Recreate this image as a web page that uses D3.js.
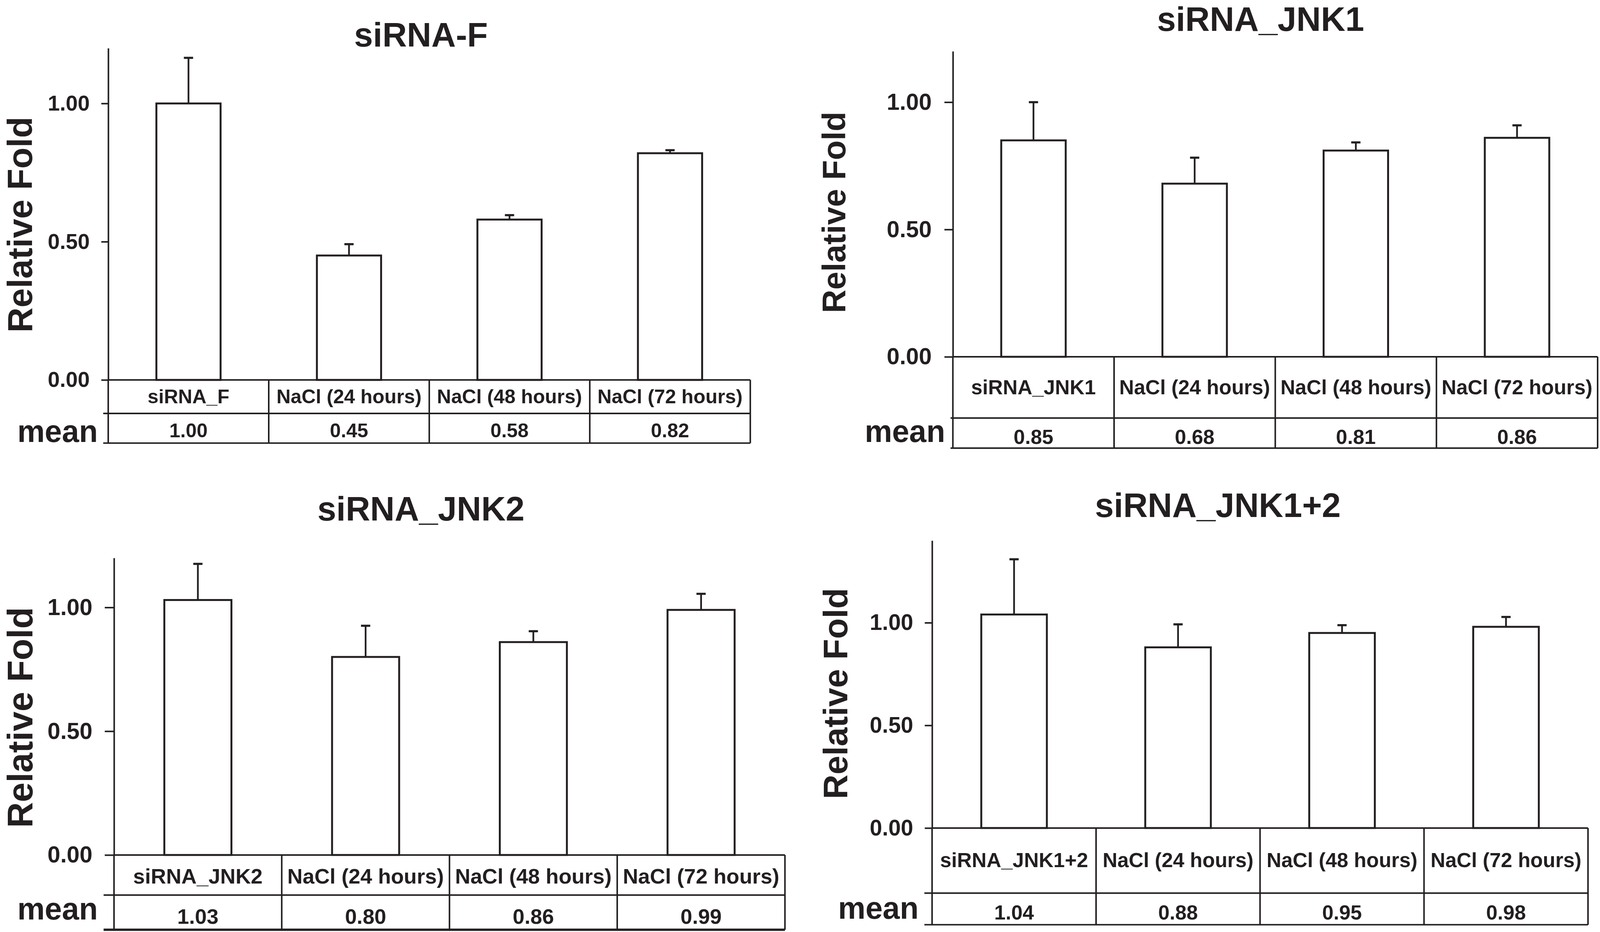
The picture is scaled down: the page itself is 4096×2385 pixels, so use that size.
<!DOCTYPE html>
<html><head><meta charset="utf-8">
<script src="https://cdn.jsdelivr.net/npm/d3@7"></script>
<style>
html,body{margin:0;padding:0;background:#fff;}
svg{display:block;}
</style>
</head><body>
<svg id="c" width="4096" height="2385"></svg>
<script>
// ---------- DATA ----------
const titles = ["siRNA-F", "siRNA_JNK1", "siRNA_JNK2", "siRNA_JNK1+2"];
const categoriesF    = ["siRNA_F", "NaCl (24 hours)", "NaCl (48 hours)", "NaCl (72 hours)"];
const categoriesJNK1 = ["siRNA_JNK1", "NaCl (24 hours)", "NaCl (48 hours)", "NaCl (72 hours)"];
const categoriesJNK2 = ["siRNA_JNK2", "NaCl (24 hours)", "NaCl (48 hours)", "NaCl (72 hours)"];
const categoriesJNK12 = ["siRNA_JNK1+2", "NaCl (24 hours)", "NaCl (48 hours)", "NaCl (72 hours)"];
const meansF    = [1.00, 0.45, 0.58, 0.82];
const meansJNK1 = [0.85, 0.68, 0.81, 0.86];
const meansJNK2 = [1.03, 0.80, 0.86, 0.99];
const meansJNK12 = [1.04, 0.88, 0.95, 0.98];
const errF    = [0.165, 0.041, 0.016, 0.011];
const errJNK1 = [0.150, 0.102, 0.032, 0.049];
const errJNK2 = [0.146, 0.126, 0.044, 0.065];
const errJNK12 = [0.269, 0.112, 0.038, 0.048];
const yTicks = [0, 0.5, 1.0];
const yMaxes = [1.2, 1.2, 1.2, 1.4];
const yLabel = "Relative Fold";
const rowLabel = "mean";

const panelsData = [
  {title: titles[0], cats: categoriesF,    means: meansF,    err: errF,    yMax: yMaxes[0]},
  {title: titles[1], cats: categoriesJNK1, means: meansJNK1, err: errJNK1, yMax: yMaxes[1]},
  {title: titles[2], cats: categoriesJNK2, means: meansJNK2, err: errJNK2, yMax: yMaxes[2]},
  {title: titles[3], cats: categoriesJNK12, means: meansJNK12, err: errJNK12, yMax: yMaxes[3]}
];

// ---------- LAYOUT (reference pixel space) ----------
const layout = [
  {x0:281, x1:1948, yTop:125, yZero:986, rowSep:1073, bottom:1150, ext:13,
   titleX:1093, titleY:121, labX:83, labY:583, labSize:90, tickSize:18, tickPad:30,
   catY:1047, valY:1135, meanX:254, meanY:1147, txtSize:51, tickFont:56, bottomW:4},
  {x0:2474, x1:4148, yTop:133, yZero:926, rowSep:1085, bottom:1163, ext:6,
   titleX:3273, titleY:80, labX:2195, labY:551, labSize:84, tickSize:22, tickPad:33,
   catY:1023, valY:1152, meanX:2454, meanY:1147, txtSize:53, tickFont:60, bottomW:4},
  {x0:296, x1:2038, yTop:1448, yZero:2219, rowSep:2323, bottom:2413, ext:27,
   titleX:1093, titleY:1351, labX:84, labY:1862, labSize:92, tickSize:24, tickPad:32,
   catY:2293, valY:2398, meanX:254, meanY:2386, txtSize:55, tickFont:60, bottomW:6},
  {x0:2420, x1:4123, yTop:1403, yZero:2149, rowSep:2318, bottom:2400, ext:20,
   titleX:3162, titleY:1342, labX:2200, labY:1800, labSize:88, tickSize:19, tickPad:30,
   catY:2250, valY:2386, meanX:2385, meanY:2384, txtSize:53, tickFont:58, bottomW:4}
];

const INK = "#231f20";
const FONT = "'Liberation Sans', Arial, Helvetica, sans-serif";
const svg = d3.select("#c");
const root = svg.append("g").attr("transform", "scale(0.986)");

panelsData.forEach((pd, i) => {
  const L = layout[i];
  const g = root.append("g");

  const y = d3.scaleLinear().domain([0, pd.yMax]).range([L.yZero, L.yTop]);
  const xCol = d3.scaleBand().domain(pd.cats).range([L.x0, L.x1]).padding(0);
  const xBar = d3.scaleBand().domain(pd.cats).range([L.x0, L.x1]).paddingInner(0.6).paddingOuter(0.3);

  // title
  g.append("text").attr("x", L.titleX).attr("y", L.titleY)
    .attr("text-anchor", "middle").attr("font-family", FONT).attr("font-weight", "bold")
    .attr("font-size", 88).attr("fill", INK).text(pd.title);

  // y label
  g.append("text").attr("transform", `translate(${L.labX},${L.labY}) rotate(-90)`)
    .attr("text-anchor", "middle").attr("font-family", FONT).attr("font-weight", "bold")
    .attr("font-size", L.labSize).attr("fill", INK).text(yLabel);

  // bars
  const rows = pd.cats.map((c, k) => ({cat: c, mean: pd.means[k], err: pd.err[k]}));
  g.selectAll("rect.bar").data(rows).join("rect").attr("class", "bar")
    .attr("x", d => xBar(d.cat)).attr("width", xBar.bandwidth())
    .attr("y", d => y(d.mean)).attr("height", d => y(0) - y(d.mean))
    .attr("fill", "#fff").attr("stroke", INK).attr("stroke-width", 5);

  // error bars (upper)
  const cx = d => xBar(d.cat) + xBar.bandwidth() / 2;
  g.selectAll("line.err").data(rows).join("line").attr("class", "err")
    .attr("x1", cx).attr("x2", cx)
    .attr("y1", d => y(d.mean)).attr("y2", d => y(d.mean + d.err))
    .attr("stroke", INK).attr("stroke-width", 4.5);
  g.selectAll("line.cap").data(rows).join("line").attr("class", "cap")
    .attr("x1", d => cx(d) - 12).attr("x2", d => cx(d) + 12)
    .attr("y1", d => y(d.mean + d.err)).attr("y2", d => y(d.mean + d.err))
    .attr("stroke", INK).attr("stroke-width", 5.5);

  // y axis
  const ax = g.append("g").attr("transform", `translate(${L.x0},0)`)
    .call(d3.axisLeft(y).tickValues(yTicks).tickFormat(d3.format(".2f"))
      .tickSize(L.tickSize).tickPadding(L.tickPad).tickSizeOuter(0));
  ax.attr("font-family", FONT).attr("font-size", L.tickFont).attr("font-weight", "bold");
  ax.select(".domain").attr("stroke", INK).attr("stroke-width", 4);
  ax.selectAll(".tick line").attr("stroke", INK).attr("stroke-width", 4);
  ax.selectAll(".tick text").attr("fill", INK);

  // table
  const tbl = g.append("g").attr("stroke", INK).attr("stroke-width", 4);
  tbl.append("line").attr("x1", L.x0).attr("x2", L.x1).attr("y1", L.yZero).attr("y2", L.yZero);
  tbl.append("line").attr("x1", L.x0 - L.ext).attr("x2", L.x1).attr("y1", L.rowSep).attr("y2", L.rowSep);
  tbl.append("line").attr("x1", L.x0 - L.ext).attr("x2", L.x1).attr("y1", L.bottom).attr("y2", L.bottom)
    .attr("stroke-width", L.bottomW);
  const bounds = pd.cats.map(c => xCol(c)).concat([L.x1]);
  tbl.selectAll("line.v").data(bounds).join("line").attr("class", "v")
    .attr("x1", d => d).attr("x2", d => d).attr("y1", L.yZero).attr("y2", L.bottom);

  // category labels
  g.selectAll("text.cat").data(rows).join("text").attr("class", "cat")
    .attr("x", d => xCol(d.cat) + xCol.bandwidth() / 2).attr("y", L.catY)
    .attr("text-anchor", "middle").attr("font-family", FONT).attr("font-weight", "bold")
    .attr("font-size", L.txtSize).attr("fill", INK).text(d => d.cat);
  // mean values
  g.selectAll("text.val").data(rows).join("text").attr("class", "val")
    .attr("x", d => xCol(d.cat) + xCol.bandwidth() / 2).attr("y", L.valY)
    .attr("text-anchor", "middle").attr("font-family", FONT).attr("font-weight", "bold")
    .attr("font-size", L.txtSize).attr("fill", INK).text(d => d3.format(".2f")(d.mean));
  // row label
  g.append("text").attr("x", L.meanX).attr("y", L.meanY)
    .attr("text-anchor", "end").attr("font-family", FONT).attr("font-weight", "bold")
    .attr("font-size", 80).attr("fill", INK).text(rowLabel);
});
</script>
</body></html>
